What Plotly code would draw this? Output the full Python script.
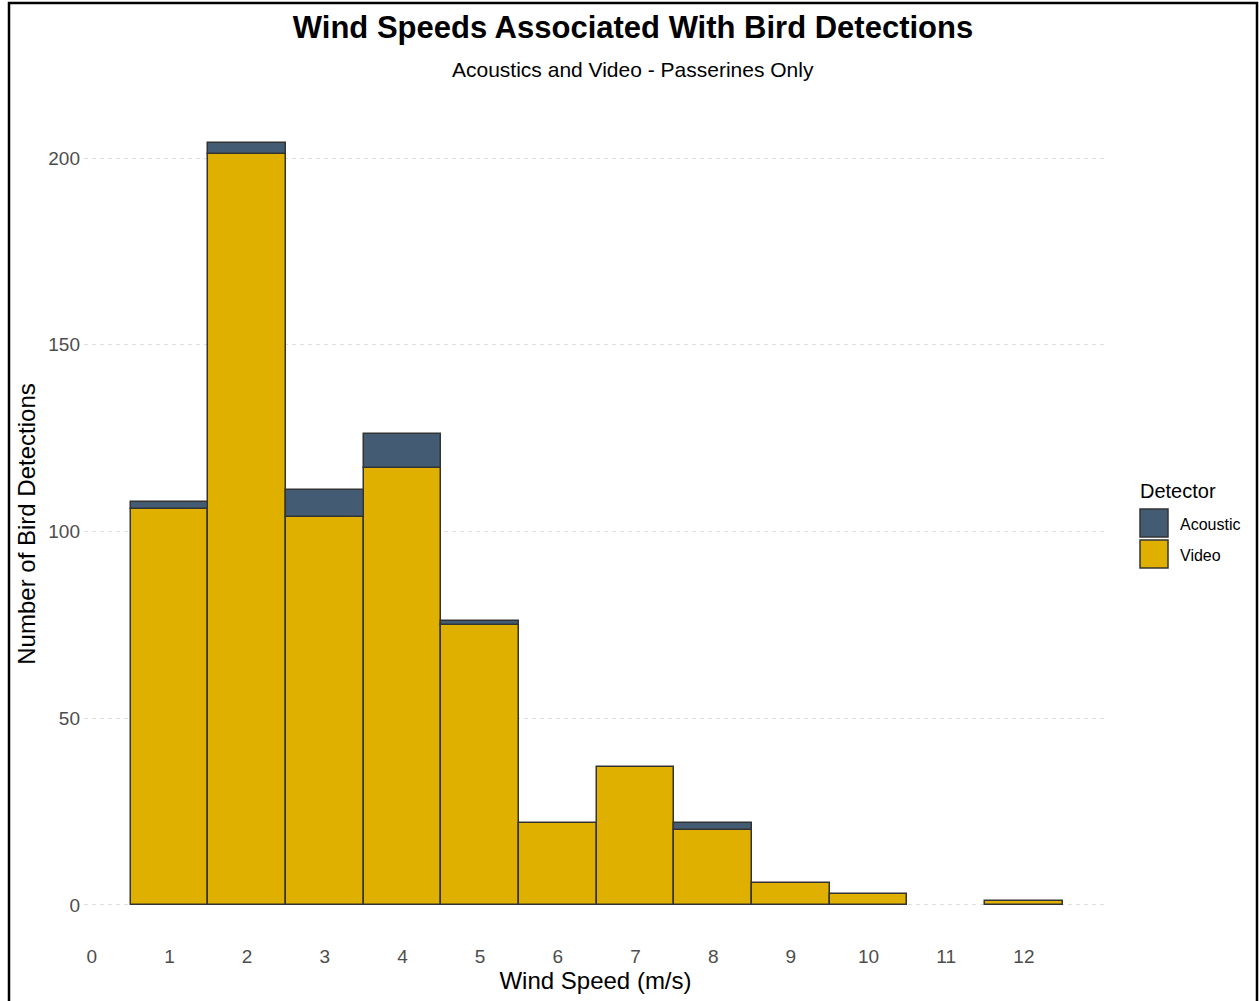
import plotly.graph_objects as go

wind_speed = [1, 2, 3, 4, 5, 6, 7, 8, 9, 10, 11, 12]
video = [106, 201, 104, 117, 75, 22, 37, 20, 6, 3, 0, 1]
acoustic = [2, 3, 7, 9, 1, 0, 0, 2, 0, 0, 0, 0]
x_ticks = list(range(0, 13))
y_ticks = [0, 50, 100, 150, 200]

VIDEO_COLOR = "#E0B000"
ACOUSTIC_COLOR = "#445C73"
EDGE = "#333333"
FONT = "Liberation Sans, Arial, sans-serif"

W, H = 1259, 1001
# panel in screen pixels: x 84..1107, y 105..943
ML = 84
MT = 105
MR = W - 1107
MB = H - 943
PW = W - ML - MR
PH = H - MT - MB


def px(sx):
    return (sx - ML) / PW


def py(sy):
    return (H - MB - sy) / PH


fig = go.Figure()
vx = [x for x, v in zip(wind_speed, video) if v > 0]
vy = [v for v in video if v > 0]
ax = [x for x, a in zip(wind_speed, acoustic) if a > 0]
ay = [a for a in acoustic if a > 0]
vbase = [v for v, a in zip(video, acoustic) if a > 0]

fig.add_trace(go.Bar(x=vx, y=vy, width=1, name="Video",
                     marker=dict(color=VIDEO_COLOR, line=dict(color=EDGE, width=1.5)),
                     showlegend=False))
fig.add_trace(go.Bar(x=ax, y=ay, base=vbase, width=1, name="Acoustic",
                     marker=dict(color=ACOUSTIC_COLOR, line=dict(color=EDGE, width=1.5)),
                     showlegend=False))

shapes = []
annotations = []
# legend (manual)
annotations.append(dict(xref="paper", yref="paper", x=px(1138), y=py(491), text="Detector",
                        showarrow=False, xanchor="left", yanchor="middle",
                        font=dict(family=FONT, size=20, color="black")))
for i, (lab, col) in enumerate([("Acoustic", ACOUSTIC_COLOR), ("Video", VIDEO_COLOR)]):
    top = 509 + i * 31
    shapes.append(dict(type="rect", xref="paper", yref="paper",
                       x0=px(1140), x1=px(1168), y0=py(top + 28), y1=py(top),
                       fillcolor=col, line=dict(color=EDGE, width=1.5)))
    annotations.append(dict(xref="paper", yref="paper", x=px(1178), y=py(top + 15), text=lab,
                            showarrow=False, xanchor="left", yanchor="middle",
                            font=dict(family=FONT, size=16, color="black")))
# outer border
shapes.append(dict(type="rect", xref="paper", yref="paper",
                   x0=px(9), x1=px(1257), y0=py(1012), y1=py(3),
                   line=dict(color="black", width=2.5), fillcolor="rgba(0,0,0,0)"))

fig.update_layout(
    width=W, height=H,
    margin=dict(l=ML, r=MR, t=MT, b=MB),
    paper_bgcolor="white", plot_bgcolor="white",
    barmode="overlay", bargap=0,
    title=dict(text="<b>Wind Speeds Associated With Bird Detections</b>",
               x=633 / W, xref="container", y=1 - 27 / H, yref="container",
               yanchor="middle", xanchor="center",
               font=dict(family=FONT, size=31, color="black")),
    shapes=shapes,
    annotations=annotations + [
        dict(xref="paper", yref="paper", x=px(633), y=py(69),
             text="Acoustics and Video - Passerines Only", showarrow=False,
             xanchor="center", yanchor="middle",
             font=dict(family=FONT, size=21, color="black"))
    ],
    showlegend=False,
)
fig.update_xaxes(range=[-0.1, 13.07], tickvals=x_ticks, ticktext=[str(t) for t in x_ticks],
                 showgrid=False, zeroline=False, showline=False, ticks="",
                 tickfont=dict(family=FONT, size=19, color="#4D4D4D"),
                 title=dict(text="Wind Speed (m/s)", standoff=4,
                            font=dict(family=FONT, size=24, color="black")))
fig.update_yaxes(range=[-10.2, 214.2], tickvals=y_ticks, ticktext=[str(t) for t in y_ticks],
                 showgrid=True, gridcolor="#DEDEDE", griddash="4px,4px", gridwidth=1,
                 zeroline=False, showline=False, ticks="", ticklabelstandoff=3,
                 tickfont=dict(family=FONT, size=19, color="#4D4D4D"),
                 title=dict(text="Number of Bird Detections", standoff=5,
                            font=dict(family=FONT, size=24, color="black")))

fig.write_html("out.html", config={"displayModeBar": False},
               post_script="document.body.style.margin='0';")
